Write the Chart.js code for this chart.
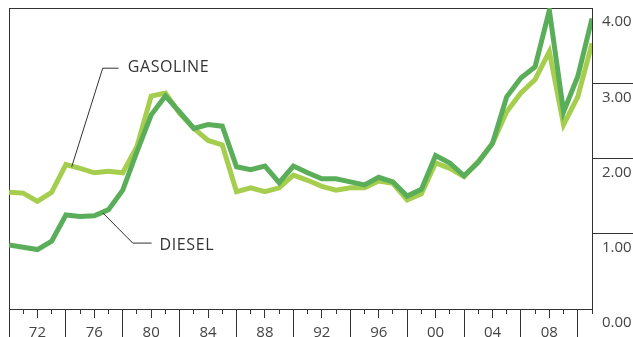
<!DOCTYPE html>
<html>
<head>
<meta charset="utf-8">
<script src="https://cdn.jsdelivr.net/npm/chart.js@4.4.1/dist/chart.umd.min.js"></script>
<style>
  html, body { margin: 0; padding: 0; background: #fff; }
  canvas { display: block; }
</style>
</head>
<body>
<canvas id="fuelChart" width="633" height="337"></canvas>
<script>
// ---------------- data (dollars per gallon)
const years = [1970, 1971, 1972, 1973, 1974, 1975, 1976, 1977, 1978, 1979,
               1980, 1981, 1982, 1983, 1984, 1985, 1986, 1987, 1988, 1989,
               1990, 1991, 1992, 1993, 1994, 1995, 1996, 1997, 1998, 1999,
               2000, 2001, 2002, 2003, 2004, 2005, 2006, 2007, 2008, 2009,
               2010, 2011];
const gasoline = [1.55, 1.54, 1.43, 1.55, 1.92, 1.87, 1.81, 1.83, 1.81, 2.16,
                  2.83, 2.87, 2.60, 2.40, 2.24, 2.18, 1.56, 1.61, 1.56, 1.61,
                  1.78, 1.71, 1.63, 1.58, 1.61, 1.61, 1.70, 1.67, 1.45, 1.53,
                  1.94, 1.87, 1.76, 1.96, 2.20, 2.62, 2.87, 3.05, 3.42, 2.45,
                  2.82, 3.53];
const diesel = [0.85, 0.82, 0.79, 0.90, 1.25, 1.23, 1.24, 1.32, 1.58, 2.09,
                2.58, 2.83, 2.62, 2.40, 2.45, 2.43, 1.89, 1.85, 1.90, 1.68,
                1.90, 1.81, 1.73, 1.73, 1.69, 1.65, 1.75, 1.69, 1.50, 1.59,
                2.04, 1.94, 1.77, 1.95, 2.20, 2.82, 3.07, 3.22, 3.97, 2.62,
                3.09, 3.86];
const labelYears = [1972, 1976, 1980, 1984, 1988, 1992, 1996, 2000, 2004, 2008];
const majorYears = [1970, 1974, 1978, 1982, 1986, 1990, 1994, 1998, 2002, 2006, 2010];
const priceTicks = [0, 1, 2, 3, 4];

// callouts: text anchor and leader line, in (year, price)
const calloutNames = ['GASOLINE', 'DIESEL'];
const calloutText = [[1978.35, 3.21], [1980.59, 0.85]];
const calloutPath = [
  [[1977.71, 3.20], [1976.59, 3.20], [1974.41, 1.89]],
  [[1980.03, 0.876], [1978.70, 0.876], [1976.61, 1.275]]
];

const ink = '#333333';
Chart.defaults.font.family = '"Open Sans", sans-serif';

const points = (vals) => vals.map((v, i) => ({ x: years[i], y: v }));
const flat = (s) => { s.height = 0; };
const thin = (s) => { s.width = 0; };

const calloutPlugin = {
  id: 'callouts',
  afterDatasetsDraw(chart) {
    const { ctx, scales: { x, y } } = chart;
    ctx.save();
    ctx.strokeStyle = ink;
    ctx.lineWidth = 1;
    calloutPath.forEach(path => {
      ctx.beginPath();
      path.forEach(([yr, v], i) => {
        const px = x.getPixelForValue(yr), py = y.getPixelForValue(v);
        if (i) ctx.lineTo(px, py); else ctx.moveTo(px, py);
      });
      ctx.stroke();
    });
    ctx.fillStyle = ink;
    ctx.font = '16px "Open Sans"';
    ctx.letterSpacing = '0.6px';
    ctx.textAlign = 'left';
    ctx.textBaseline = 'middle';
    calloutNames.forEach((name, i) => {
      ctx.fillText(name, x.getPixelForValue(calloutText[i][0]), y.getPixelForValue(calloutText[i][1]));
    });
    ctx.restore();
  }
};

const config = {
  type: 'line',
  data: {
    datasets: [{
      label: 'Diesel',
      data: points(diesel),
      borderColor: '#5aae5a',
      borderWidth: 5,
      pointRadius: 0,
      tension: 0,
      xAxisID: 'x',
      yAxisID: 'y'
    }, {
      label: 'Gasoline',
      data: points(gasoline),
      borderColor: '#a6ce4e',
      borderWidth: 5,
      pointRadius: 0,
      tension: 0,
      xAxisID: 'x',
      yAxisID: 'y'
    }]
  },
  options: {
    responsive: false,
    animation: false,
    devicePixelRatio: 1,
    layout: { padding: { left: 9, top: 8, right: 0, bottom: 0 } },
    plugins: { legend: { display: false }, tooltip: { enabled: false } },
    scales: {
      // yearly minor ticks + bottom line
      x: {
        type: 'linear', position: 'bottom', weight: 0, min: 1970, max: 2011,
        ticks: { stepSize: 1, display: false },
        grid: { drawOnChartArea: false, tickLength: 5, color: ink },
        border: { display: true, color: ink },
        afterFit: flat
      },
      // four-year dividers
      xMajor: {
        type: 'linear', axis: 'x', position: 'bottom', weight: 0, min: 1970, max: 2011,
        afterBuildTicks: (s) => { s.ticks = majorYears.map(v => ({ value: v })); },
        ticks: { display: false },
        grid: { drawOnChartArea: false, tickLength: 30, color: ink },
        border: { display: false },
        afterFit: flat
      },
      // labelled years
      xMid: {
        type: 'linear', axis: 'x', position: 'bottom', weight: 5, min: 1970, max: 2011,
        afterBuildTicks: (s) => { s.ticks = labelYears.map(v => ({ value: v })); },
        ticks: {
          autoSkip: false, maxRotation: 0, padding: 6, color: '#444',
          font: { size: 15 },
          callback: (v) => String(v % 100).padStart(2, '0')
        },
        grid: { drawOnChartArea: false, tickLength: 9, color: ink },
        border: { display: false },
        afterFit: (s) => { s.height = 28; }
      },
      xTop: {
        type: 'linear', axis: 'x', position: 'top', min: 1970, max: 2011,
        ticks: { display: false },
        grid: { drawOnChartArea: false, drawTicks: false },
        border: { display: true, color: ink },
        afterFit: flat
      },
      yLeft: {
        type: 'linear', axis: 'y', position: 'left', min: 0, max: 4,
        ticks: { display: false },
        grid: { drawOnChartArea: false, drawTicks: false },
        border: { display: true, color: ink },
        afterFit: thin
      },
      y: {
        type: 'linear', position: 'right', min: 0, max: 4,
        afterBuildTicks: (s) => { s.ticks = priceTicks.map(v => ({ value: v })); },
        ticks: {
          autoSkip: false, padding: -31, labelOffset: 14, color: '#444',
          font: { size: 15 },
          callback: (v) => v.toFixed(2)
        },
        grid: {
          drawOnChartArea: false, tickLength: 41,
          color: (c) => (c.tick && (c.tick.value === 0 || c.tick.value === 4)) ? 'rgba(0,0,0,0)' : ink
        },
        border: { display: true, color: ink },
        afterFit: (s) => { s.width = 41; }
      }
    }
  },
  plugins: [calloutPlugin]
};

const myChart = new Chart(document.getElementById('fuelChart'), config);
</script>
</body>
</html>
